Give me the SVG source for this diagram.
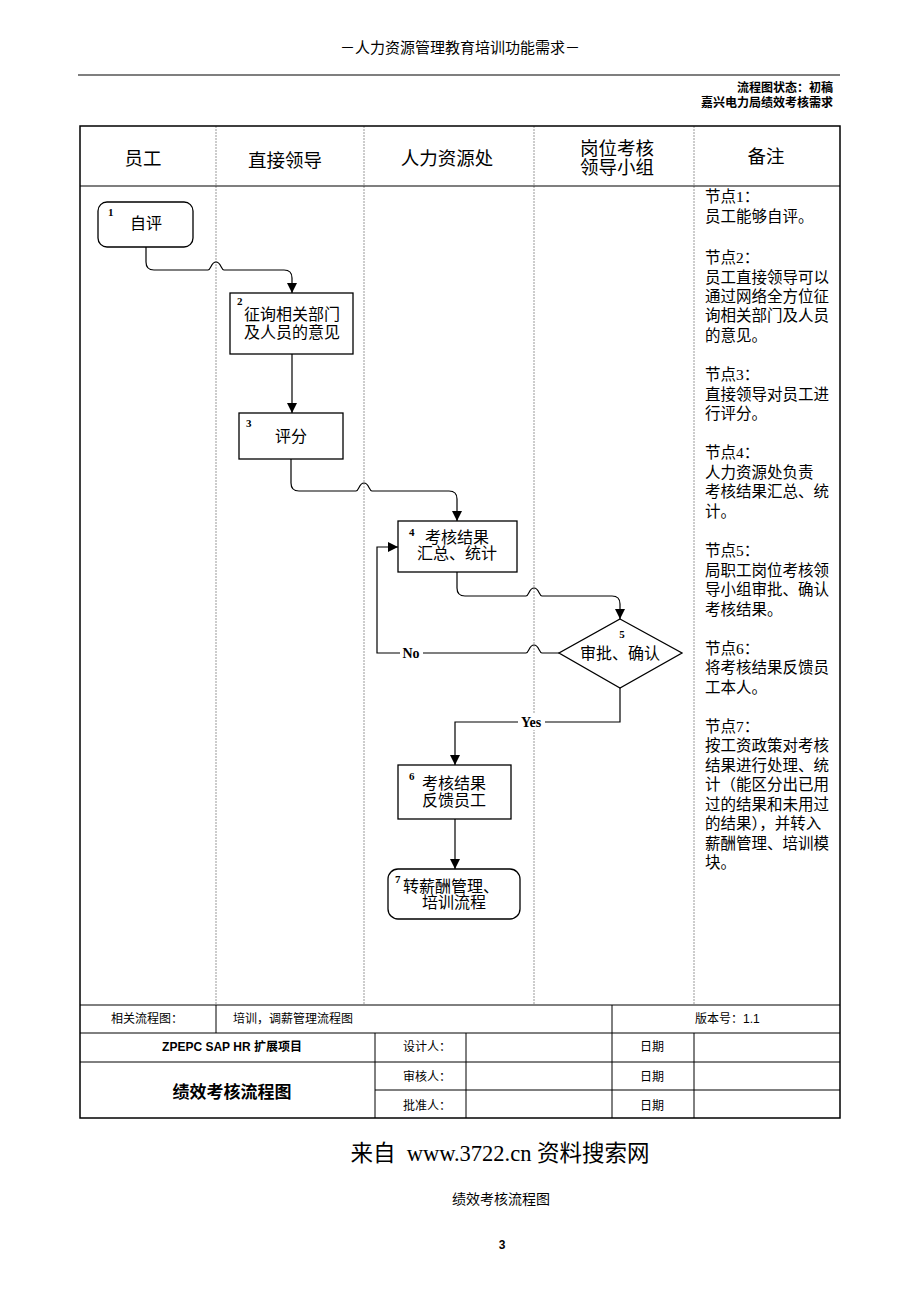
<svg xmlns="http://www.w3.org/2000/svg" width="920" height="1302" viewBox="0 0 920 1302">
<defs>
<marker id="arr" markerUnits="userSpaceOnUse" markerWidth="10" markerHeight="10" refX="10" refY="5" orient="auto">
<path d="M0,0 L10,5 L0,10 z" fill="#000"/>
</marker>
<style>
.cjk{font-family:"Liberation Sans","Noto Sans CJK SC",sans-serif;fill:#000}
.ser{font-family:"Liberation Serif","Noto Sans CJK SC",serif;fill:#000}
.num{font-family:"Liberation Serif",serif;font-weight:bold;font-size:11px;fill:#000}
.lbl{font-family:"Liberation Serif",serif;font-weight:bold;font-size:14px;fill:#000}
.node{fill:#fff;stroke:#000;stroke-width:1.3}
.conn{fill:none;stroke:#000;stroke-width:1.2}
.lane{stroke:#999;stroke-width:1;stroke-dasharray:2 1}
.bl{stroke:#000;stroke-width:1}
.nt{font-family:"Liberation Serif","Noto Sans CJK SC",serif;font-size:15.5px;fill:#000}
.hd{font-family:"Liberation Sans","Noto Sans CJK SC",sans-serif;font-size:18.5px;fill:#000;text-anchor:middle}
.ft{font-family:"Liberation Sans","Noto Sans CJK SC",sans-serif;font-size:12px;fill:#000}
</style>
</defs>
<rect width="920" height="1302" fill="#fff"/>

<!-- page header -->
<text class="cjk" x="460" y="53" font-size="15" text-anchor="middle" fill="#333">－人力资源管理教育培训功能需求－</text>
<line x1="78" y1="75" x2="840" y2="75" stroke="#000" stroke-width="1.2"/>
<text class="cjk" x="833" y="92" font-size="12" font-weight="bold" text-anchor="end">流程图状态：初稿</text>
<text class="cjk" x="833" y="107" font-size="12" font-weight="bold" text-anchor="end">嘉兴电力局绩效考核需求</text>

<!-- table frame -->
<g id="frame">
<line class="lane" x1="216" y1="126" x2="216" y2="1005"/>
<line class="lane" x1="364" y1="126" x2="364" y2="1005"/>
<line class="lane" x1="534" y1="126" x2="534" y2="1005"/>
<line class="lane" x1="694" y1="126" x2="694" y2="1005"/>
<line x1="80" y1="186" x2="840" y2="186" stroke="#000" stroke-width="1.2"/>
<rect x="80" y="126" width="760" height="992" fill="none" stroke="#000" stroke-width="1.5"/>
<text class="hd" x="143" y="165">员工</text>
<text class="hd" x="285" y="167">直接领导</text>
<text class="hd" x="447" y="165">人力资源处</text>
<text class="hd" x="617" y="155">岗位考核</text>
<text class="hd" x="617" y="174">领导小组</text>
<text class="hd" x="766" y="163">备注</text>
</g>

<!-- notes -->
<g id="notes">
<text class="nt" x="705" y="202">节点1：</text>
<text class="nt" x="705" y="222">员工能够自评。</text>
<text class="nt" x="705" y="263">节点2：</text>
<text class="nt" x="705" y="283">员工直接领导可以</text>
<text class="nt" x="705" y="302">通过网络全方位征</text>
<text class="nt" x="705" y="321">询相关部门及人员</text>
<text class="nt" x="705" y="341">的意见。</text>
<text class="nt" x="705" y="380">节点3：</text>
<text class="nt" x="705" y="400">直接领导对员工进</text>
<text class="nt" x="705" y="419">行评分。</text>
<text class="nt" x="705" y="458">节点4：</text>
<text class="nt" x="705" y="478">人力资源处负责</text>
<text class="nt" x="705" y="497">考核结果汇总、统</text>
<text class="nt" x="705" y="517">计。</text>
<text class="nt" x="705" y="556">节点5：</text>
<text class="nt" x="705" y="576">局职工岗位考核领</text>
<text class="nt" x="705" y="595">导小组审批、确认</text>
<text class="nt" x="705" y="615">考核结果。</text>
<text class="nt" x="705" y="654">节点6：</text>
<text class="nt" x="705" y="673">将考核结果反馈员</text>
<text class="nt" x="705" y="693">工本人。</text>
<text class="nt" x="705" y="732">节点7：</text>
<text class="nt" x="705" y="751">按工资政策对考核</text>
<text class="nt" x="705" y="771">结果进行处理、统</text>
<text class="nt" x="705" y="790">计（能区分出已用</text>
<text class="nt" x="705" y="810">过的结果和未用过</text>
<text class="nt" x="705" y="829">的结果），并转入</text>
<text class="nt" x="705" y="849">薪酬管理、培训模</text>
<text class="nt" x="705" y="868">块。</text>
</g>

<!-- connectors -->
<g id="connectors">
<path class="conn" d="M146,247 V262 Q146,270 154,270 H208 C211,270 211,262 216,262 C221,262 221,270 224,270 H284 Q292,270 292,278 V293" marker-end="url(#arr)"/>
<path class="conn" d="M292,354 V413" marker-end="url(#arr)"/>
<path class="conn" d="M291,459 V483 Q291,491 299,491 H356 C359,491 359,483 364,483 C369,483 369,491 372,491 H449 Q457,491 457,499 V521" marker-end="url(#arr)"/>
<path class="conn" d="M457,572 V588 Q457,596 465,596 H526 C529,596 529,588 534,588 C539,588 539,596 542,596 H612 Q620,596 620,604 V619" marker-end="url(#arr)"/>
<path class="conn" d="M559,653 H542 C539,653 539,645 534,645 C529,645 529,653 526,653 H377 V547 H398" marker-end="url(#arr)"/>
<path class="conn" d="M620,688 V722 H455 V765" marker-end="url(#arr)"/>
<path class="conn" d="M455,819 V869" marker-end="url(#arr)"/>
<rect x="400" y="645" width="23" height="16" fill="#fff"/>
<text class="lbl" x="411" y="658" text-anchor="middle">No</text>
<rect x="518" y="714" width="27" height="16" fill="#fff"/>
<text class="lbl" x="531" y="727" text-anchor="middle">Yes</text>
</g>

<!-- nodes -->
<g id="node1">
<rect class="node" x="98" y="202" width="95" height="45" rx="9"/>
<text class="num" x="108" y="216">1</text>
<text class="cjk" x="146" y="229" font-size="16" text-anchor="middle">自评</text>
</g>
<g id="node2">
<rect class="node" x="230" y="293" width="123" height="61"/>
<text class="num" x="237" y="305">2</text>
<text class="cjk" x="292" y="320" font-size="16" text-anchor="middle">征询相关部门</text>
<text class="cjk" x="292" y="338" font-size="16" text-anchor="middle">及人员的意见</text>
</g>
<g id="node3">
<rect class="node" x="239" y="413" width="104" height="46"/>
<text class="num" x="246" y="427">3</text>
<text class="cjk" x="291" y="442" font-size="16" text-anchor="middle">评分</text>
</g>
<g id="node4">
<rect class="node" x="398" y="521" width="119" height="51"/>
<text class="num" x="409" y="536">4</text>
<text class="cjk" x="457" y="543" font-size="16" text-anchor="middle">考核结果</text>
<text class="cjk" x="457" y="559" font-size="16" text-anchor="middle">汇总、统计</text>
</g>
<g id="node5">
<polygon class="node" points="620,619 682,653 620,688 559,653"/>
<text class="num" x="622" y="638" text-anchor="middle">5</text>
<text class="cjk" x="620" y="659" font-size="16" text-anchor="middle">审批、确认</text>
</g>
<g id="node6">
<rect class="node" x="398" y="765" width="113" height="54"/>
<text class="num" x="409" y="780">6</text>
<text class="cjk" x="454" y="789" font-size="16" text-anchor="middle">考核结果</text>
<text class="cjk" x="454" y="806" font-size="16" text-anchor="middle">反馈员工</text>
</g>
<g id="node7">
<rect class="node" x="388" y="869" width="132" height="50" rx="10"/>
<text class="num" x="395" y="883">7</text>
<text class="cjk" x="451" y="892" font-size="16" text-anchor="middle">转薪酬管理、</text>
<text class="cjk" x="454" y="908" font-size="16" text-anchor="middle">培训流程</text>
</g>

<!-- footer table -->
<g id="footer">
<line class="bl" x1="80" y1="1005" x2="840" y2="1005"/>
<line class="bl" x1="80" y1="1033" x2="840" y2="1033"/>
<line class="bl" x1="80" y1="1062" x2="840" y2="1062"/>
<line class="bl" x1="375" y1="1090" x2="840" y2="1090"/>
<line class="bl" x1="216" y1="1005" x2="216" y2="1033"/>
<line class="bl" x1="612" y1="1005" x2="612" y2="1118"/>
<line class="bl" x1="375" y1="1033" x2="375" y2="1118"/>
<line class="bl" x1="466" y1="1033" x2="466" y2="1118"/>
<line class="bl" x1="694" y1="1033" x2="694" y2="1118"/>
<text class="ft" x="147" y="1023" text-anchor="middle">相关流程图：</text>
<text class="ft" x="233" y="1023">培训，调薪管理流程图</text>
<text class="ft" x="695" y="1023">版本号：1.1</text>
<text class="ft" x="232" y="1051" text-anchor="middle" font-weight="bold">ZPEPC SAP HR 扩展项目</text>
<text class="ft" x="403" y="1051">设计人：</text>
<text class="ft" x="652" y="1051" text-anchor="middle">日期</text>
<text class="cjk" x="232" y="1098" font-size="17" font-weight="bold" text-anchor="middle">绩效考核流程图</text>
<text class="ft" x="403" y="1081">审核人：</text>
<text class="ft" x="652" y="1081" text-anchor="middle">日期</text>
<text class="ft" x="403" y="1110">批准人：</text>
<text class="ft" x="652" y="1110" text-anchor="middle">日期</text>
</g>

<!-- page bottom -->
<text class="ser" x="500" y="1161" font-size="22.5" text-anchor="middle" fill="#222" xml:space="preserve">来自  www.3722.cn 资料搜索网</text>
<text class="cjk" x="501" y="1204" font-size="14" text-anchor="middle">绩效考核流程图</text>
<text class="cjk" x="502" y="1249" font-size="12" font-weight="bold" text-anchor="middle">3</text>
</svg>
